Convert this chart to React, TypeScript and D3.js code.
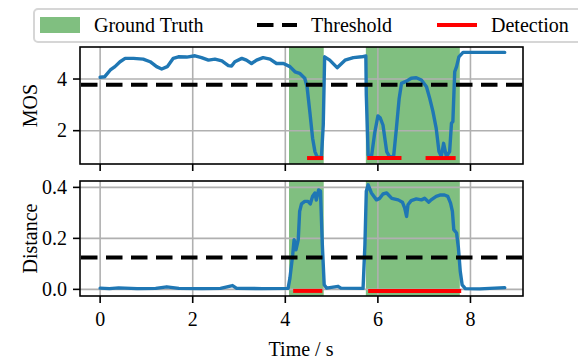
import React from 'react';
import * as d3 from 'd3';

// values
const mosTime = [0.0, 0.1, 0.22, 0.32, 0.43, 0.54, 0.72, 0.93, 1.08, 1.22, 1.33, 1.45, 1.58, 1.69, 1.87, 2.05, 2.19, 2.34, 2.48, 2.63, 2.77, 2.84, 2.91, 3.06, 3.16, 3.27, 3.38, 3.52, 3.67, 3.81, 3.96, 4.1, 4.21, 4.31, 4.42, 4.47, 4.53, 4.59, 4.64, 4.69, 4.78, 4.82, 4.85, 4.96, 5.12, 5.29, 5.47, 5.65, 5.74, 5.75, 5.79, 5.86, 5.93, 6.0, 6.05, 6.11, 6.19, 6.26, 6.34, 6.4, 6.46, 6.51, 6.62, 6.72, 6.83, 6.94, 7.05, 7.12, 7.19, 7.26, 7.32, 7.37, 7.42, 7.48, 7.55, 7.59, 7.62, 7.66, 7.7, 7.75, 7.84, 8.2, 8.74];
const mosValue = [4.07, 4.09, 4.35, 4.48, 4.67, 4.8, 4.8, 4.77, 4.67, 4.48, 4.39, 4.48, 4.8, 4.86, 4.85, 4.9, 4.83, 4.73, 4.77, 4.7, 4.52, 4.5, 4.67, 4.8, 4.73, 4.6, 4.73, 4.83, 4.77, 4.6, 4.6, 4.48, 4.28, 4.22, 4.03, 3.7, 2.73, 1.71, 1.19, 0.97, 0.97, 2.22, 4.86, 4.73, 4.44, 4.73, 4.83, 4.86, 4.89, 3.38, 1.06, 0.97, 1.9, 2.57, 2.5, 2.22, 1.19, 0.97, 1.0, 2.09, 3.25, 3.83, 3.92, 4.03, 4.05, 3.96, 3.7, 3.25, 2.74, 2.09, 1.19, 1.0, 1.51, 1.0, 1.19, 2.29, 2.35, 4.28, 4.48, 4.86, 5.03, 5.03, 5.03];

const distTime = [0.0, 0.2, 0.4, 0.8, 1.2, 1.44, 1.7, 2.2, 2.6, 2.86, 2.95, 3.5, 4.06, 4.1, 4.16, 4.19, 4.23, 4.28, 4.31, 4.35, 4.42, 4.49, 4.54, 4.59, 4.64, 4.67, 4.72, 4.76, 4.8, 4.84, 4.89, 5.14, 5.2, 5.68, 5.72, 5.75, 5.79, 5.86, 5.97, 6.04, 6.11, 6.19, 6.3, 6.44, 6.53, 6.58, 6.62, 6.65, 6.72, 6.83, 6.94, 7.01, 7.1, 7.15, 7.26, 7.34, 7.44, 7.51, 7.57, 7.61, 7.64, 7.7, 7.74, 7.78, 7.82, 7.89, 8.2, 8.74];
const distValue = [0.005, 0.003, 0.006, 0.003, 0.004, 0.01, 0.004, 0.003, 0.004, 0.015, 0.004, 0.003, 0.004, 0.044, 0.136, 0.195, 0.155, 0.195, 0.306, 0.335, 0.345, 0.345, 0.335, 0.365, 0.378, 0.35, 0.39, 0.385, 0.175, 0.018, 0.005, 0.012, 0.005, 0.004, 0.175, 0.385, 0.41, 0.378, 0.351, 0.357, 0.374, 0.378, 0.357, 0.351, 0.342, 0.319, 0.286, 0.332, 0.348, 0.355, 0.351, 0.357, 0.342, 0.351, 0.365, 0.37, 0.37, 0.365, 0.338, 0.306, 0.234, 0.221, 0.162, 0.07, 0.018, 0.003, 0.002, 0.007];

const truthSpans = [[4.08, 4.83], [5.74, 7.77]];
const mosDetections = [[4.47, 4.82], [5.77, 6.51], [7.03, 7.68]];
const distDetections = [[4.17, 4.8], [5.79, 7.8]];
const mosDetectLevel = 0.94;
const distDetectLevel = -0.006;
const mosThreshold = 3.78;
const distThreshold = 0.125;

const timeTicks = [0, 2, 4, 6, 8];
const mosTicks = [2, 4];
const distTicks = [0, 0.2, 0.4];
const legendLabels = ['Ground Truth', 'Threshold', 'Detection'];

const W = 578;
const H = 359;
const FONT = '"Liberation Serif", "Times New Roman", serif';
const FS = 20;
const BLUE = '#1f77b4';
const GREEN = '#80bf80';
const GRID = '#b0b0b0';

const x = d3.scaleLinear().domain([-0.435, 9.135]).range([80, 523]);

function Panel({ top, bottom, domain, ticks, fmt, time, values, thr, dets, level, label, showX }) {
  const y = d3.scaleLinear().domain(domain).range([bottom, top]);
  const line = d3.line<number>().x((_, i) => x(time[i])).y(d => y(d));
  const [x0, x1] = x.range();
  const clipId = `clip-${label}`;
  return (
    <g>
      <defs>
        <clipPath id={clipId}>
          <rect x={x0} y={top} width={x1 - x0} height={bottom - top} />
        </clipPath>
      </defs>
      <g clipPath={`url(#${clipId})`}>
        {truthSpans.map((s, i) => (
          <rect key={i} x={x(s[0])} y={top} width={x(s[1]) - x(s[0])} height={bottom - top} fill={GREEN} />
        ))}
        {timeTicks.map(t => (
          <line key={'gx' + t} x1={x(t)} x2={x(t)} y1={top} y2={bottom} stroke={GRID} strokeWidth={1.6} />
        ))}
        {ticks.map(t => (
          <line key={'gy' + t} x1={x0} x2={x1} y1={y(t)} y2={y(t)} stroke={GRID} strokeWidth={1.6} />
        ))}
        <path d={line(values) || ''} fill="none" stroke={BLUE} strokeWidth={3.4} strokeLinejoin="round" strokeLinecap="round" />
        <line x1={x0 + 1} x2={x1} y1={y(thr)} y2={y(thr)} stroke="#000" strokeWidth={4} strokeDasharray="16.5 8.5" />
        {dets.map((s, i) => (
          <line key={'d' + i} x1={x(s[0])} x2={x(s[1])} y1={y(level)} y2={y(level)} stroke="#ff0000" strokeWidth={4} />
        ))}
      </g>
      <rect x={x0} y={top} width={x1 - x0} height={bottom - top} fill="none" stroke="#000" strokeWidth={1.6} />
      {timeTicks.map(t => (
        <g key={'tx' + t}>
          <line x1={x(t)} x2={x(t)} y1={bottom} y2={bottom + 7} stroke="#000" strokeWidth={1.6} />
          {showX && (
            <text x={x(t)} y={bottom + 30} textAnchor="middle" fontFamily={FONT} fontSize={FS}>{t}</text>
          )}
        </g>
      ))}
      {ticks.map(t => (
        <g key={'ty' + t}>
          <line x1={x0 - 7} x2={x0} y1={y(t)} y2={y(t)} stroke="#000" strokeWidth={1.6} />
          <text x={x0 - 13} y={y(t)} dy="0.34em" textAnchor="end" fontFamily={FONT} fontSize={FS}>{fmt(t)}</text>
        </g>
      ))}
      <text transform={`translate(37,${(top + bottom) / 2}) rotate(-90)`} textAnchor="middle" fontFamily={FONT} fontSize={FS}>{label}</text>
    </g>
  );
}

function Legend() {
  return (
    <g fontFamily={FONT} fontSize={FS}>
      <rect x={34} y={9} width={560} height={33} rx={4} fill="#fff" fillOpacity={0.8} stroke="#d6d6d6" strokeWidth={2} />
      <rect x={40} y={17} width={40} height={16} fill={GREEN} />
      <text x={94} y={32}>{legendLabels[0]}</text>
      <line x1={257} x2={297} y1={25} y2={25} stroke="#000" strokeWidth={4} strokeDasharray="16.5 8.5" />
      <text x={311} y={32}>{legendLabels[1]}</text>
      <line x1={437} x2={477} y1={25} y2={25} stroke="#ff0000" strokeWidth={4} />
      <text x={491} y={32}>{legendLabels[2]}</text>
    </g>
  );
}

export default function App() {
  return (
    <div style={{ position: 'absolute', left: 0, top: 0 }}>
      <svg width={W} height={H} style={{ display: 'block', background: '#fff' }}>
        <Panel top={47} bottom={164} domain={[0.71, 5.24]} ticks={mosTicks} fmt={d => String(d)}
          time={mosTime} values={mosValue} thr={mosThreshold} dets={mosDetections} level={mosDetectLevel}
          label="MOS" showX={false} />
        <Panel top={181} bottom={296} domain={[-0.026, 0.425]} ticks={distTicks} fmt={d3.format('.1f')}
          time={distTime} values={distValue} thr={distThreshold} dets={distDetections} level={distDetectLevel}
          label="Distance" showX={true} />
        <text x={301} y={356} textAnchor="middle" fontFamily={FONT} fontSize={FS}>Time / s</text>
        <Legend />
      </svg>
    </div>
  );
}
